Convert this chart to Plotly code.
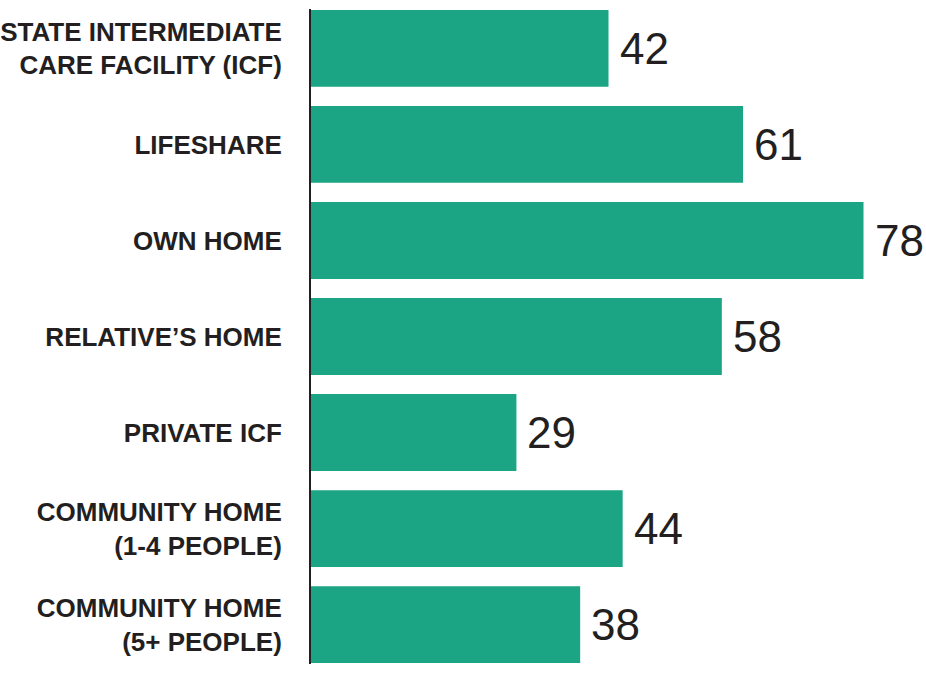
import plotly.graph_objects as go

categories = [
    "STATE INTERMEDIATE<br>CARE FACILITY (ICF)",
    "LIFESHARE",
    "OWN HOME",
    "RELATIVE\u2019S HOME",
    "PRIVATE ICF",
    "COMMUNITY HOME<br>(1-4 PEOPLE)",
    "COMMUNITY HOME<br>(5+ PEOPLE)",
]
values = [42, 61, 78, 58, 29, 44, 38]

BAR = "#1ba585"
INK = "#231f20"
FONT = "Liberation Sans Narrow, Arial Narrow, Liberation Sans, Arial, sans-serif"

fig = go.Figure()
fig.add_trace(go.Bar(
    x=values,
    y=list(range(len(categories))),
    orientation="h",
    marker=dict(color=BAR, line=dict(width=0)),
    width=0.8,
    hoverinfo="skip",
))

# value labels to the right of each bar
for i, v in enumerate(values):
    fig.add_annotation(
        x=v, y=i, text=str(v), showarrow=False,
        xanchor="left", yanchor="middle", xshift=9,
        font=dict(family=FONT, size=44, color=INK),
    )

fig.update_layout(
    width=926, height=674,
    margin=dict(l=311, r=20, t=9, b=10),
    paper_bgcolor="white", plot_bgcolor="white",
    showlegend=False,
)
fig.update_xaxes(range=[0, 84.0], visible=False)
fig.update_yaxes(
    range=[6.41, -0.41],
    tickmode="array",
    tickvals=list(range(len(categories))),
    ticktext=categories,
    showgrid=False, zeroline=False,
    showline=True, linecolor=INK, linewidth=2,
    ticks="", ticklabelstandoff=22,
    automargin=False,
    tickfont=dict(family=FONT, size=26, color=INK, weight="bold"),
)

# drop the browser's default body margin so the figure sits at 0,0
fig.write_html(
    "out.html",
    config={"displayModeBar": False},
    post_script="document.body.style.margin = '0';",
)
